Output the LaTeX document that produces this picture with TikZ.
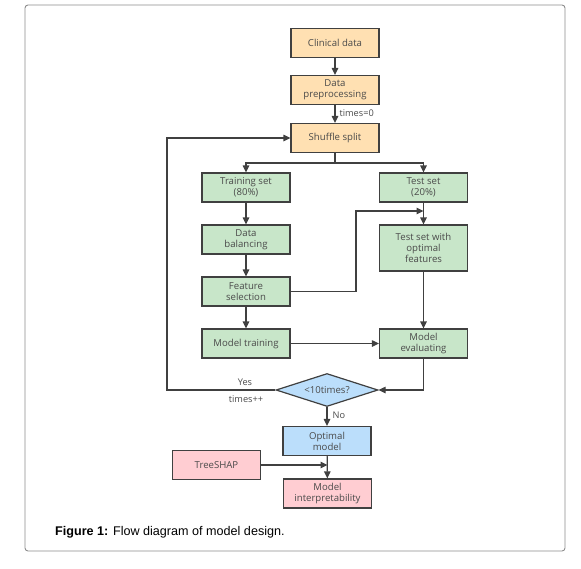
\documentclass[tikz,border=0pt]{standalone}
\usepackage{fontspec}
\setmainfont{Open Sans}
\newfontfamily\capfont{Liberation Sans}
\usetikzlibrary{shapes.geometric,arrows.meta}
\definecolor{orf}{HTML}{FFE0B2}
\definecolor{grf}{HTML}{C8E6C9}
\definecolor{blf}{HTML}{BBDEFB}
\definecolor{pkf}{HTML}{FFCDD2}
\definecolor{edge}{HTML}{404040}
\definecolor{txt}{HTML}{4A4A4A}
\tikzset{
  box/.style={draw=edge, line width=1.2pt, minimum width=88pt, minimum height=29pt, align=center, inner sep=1pt, font=\fontsize{9.6}{11}\selectfont, text=txt},
  obox/.style={box, fill=orf},
  gbox/.style={box, fill=grf},
  bbox/.style={box, fill=blf},
  pbox/.style={box, fill=pkf},
  arr/.style={draw=edge, line width=1.2pt, -{Triangle[length=7pt,width=6.5pt]}},
  ln/.style={draw=edge, line width=1.2pt},
  lab/.style={font=\fontsize{9.2}{11}\selectfont, text=txt, inner sep=1pt}
}
\begin{document}
\begin{tikzpicture}[x=1pt,y=-1pt]
\useasboundingbox (0,0) rectangle (581,568);
\draw[draw=gray!90, line width=0.9pt, rounded corners=3pt] (25,5) rectangle (565,551);
\node[obox] (clin) at (335,43) {Clinical data};
\node[obox] (prep) at (335,90) {Data\\preprocessing};
\node[obox] (shuf) at (335,138) {Shuffle split};
\node[gbox] (train) at (246,187.5) {Training set\\(80\%)};
\node[gbox] (test) at (423.5,187.5) {Test set\\(20\%)};
\node[gbox] (bal) at (246,239.5) {Data\\balancing};
\node[gbox] (feat) at (246,291.5) {Feature\\selection};
\node[gbox] (mtrain) at (246,343.5) {Model training};
\node[gbox, minimum height=46pt] (topt) at (423.5,248) {Test set with\\optimal\\features};
\node[gbox] (meval) at (423.5,343.5) {Model\\evaluating};
\node[diamond, aspect=3.1, draw=edge, line width=1.2pt, fill=blf, minimum width=102pt, minimum height=33pt, inner sep=0pt, font=\fontsize{9.6}{11}\selectfont, text=txt] (dec) at (327,390) {<10times?};
\node[bbox] (opt) at (327,441) {Optimal\\model};
\node[pbox] (shap) at (216.5,465) {TreeSHAP};
\node[pbox] (interp) at (327.5,493.5) {Model\\interpretability};
\coordinate (split) at (335,163);
\coordinate (fsj) at (423.5,211);
\draw[arr] (clin) -- (prep);
\draw[arr] (prep) -- node[lab, right=3pt, pos=0.45] {times=0} (shuf);
\draw[ln] (shuf) -- (split);
\draw[arr] (split) -| (train.north);
\draw[arr] (split) -| (test.north);
\draw[arr] (train) -- (bal);
\draw[arr] (bal) -- (feat);
\draw[arr] (feat) -- (mtrain);
\draw[arr] (feat.east) -- (356,291.5) |- (fsj);
\draw[arr] (test) -- (topt);
\draw[arr] (topt) -- (meval);
\draw[arr] (mtrain) -- (meval);
\draw[arr] (meval.south) |- (dec.east);
\draw[arr] (dec.west) -- (167,390) |- (shuf.west);
\node[lab] (yes) at (245,382) {Yes};
\node[lab] (tpp) at (246,399) {times++};
\draw[arr] (dec.south) -- node[lab, right=4pt, pos=0.45] {No} (opt.north);
\draw[arr] (opt) -- (interp);
\draw[arr] (shap.east) -- (327.5,465);
\node[anchor=west, inner sep=0pt, font=\capfont\fontsize{12.6}{14}\selectfont] (cap) at (55,532) {\textbf{Figure 1:} Flow diagram of model design.};
\end{tikzpicture}
\end{document}
